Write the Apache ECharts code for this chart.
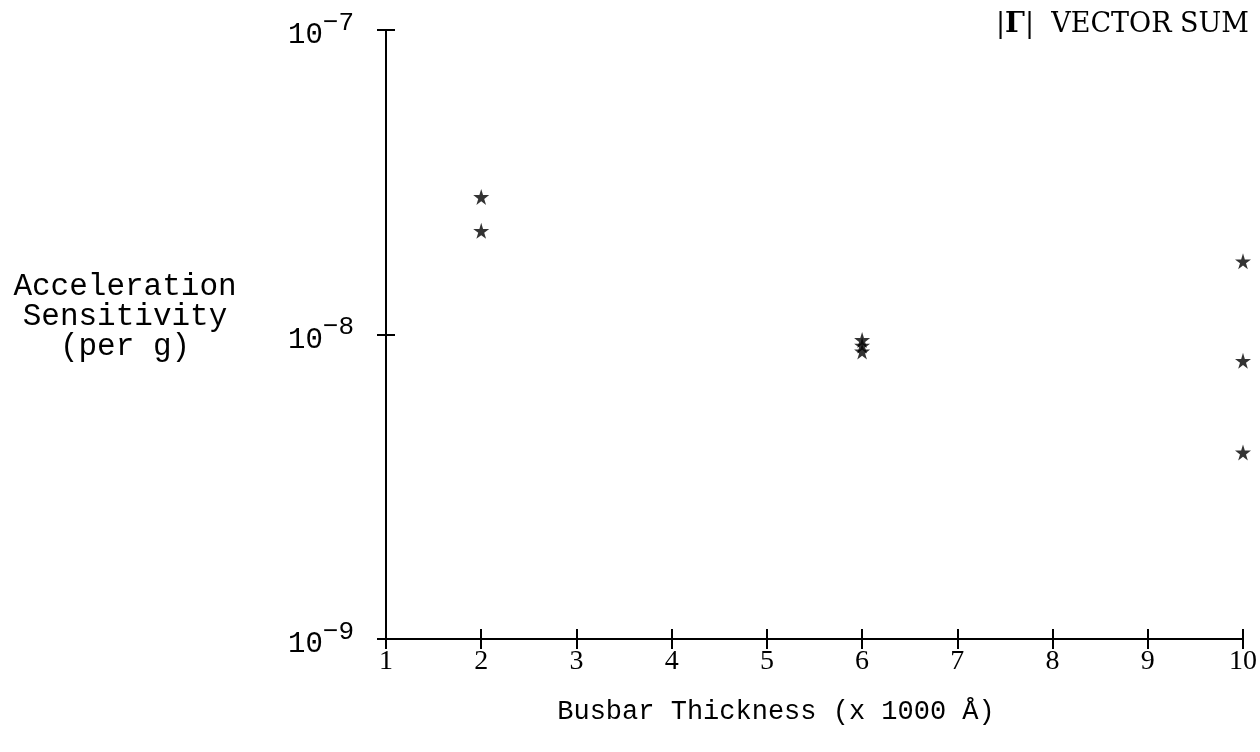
<!DOCTYPE html>
<html lang="en">
<head>
  <meta charset="UTF-8" />
  <title>Acceleration Sensitivity vs Busbar Thickness</title>
  <script src="https://cdn.jsdelivr.net/npm/echarts@6/dist/echarts.min.js"></script>
  <style>
    html, body, #main {
      margin: 0; padding: 0; width: 100%; height: 100%;
      background: #fff;
    }
  </style>
</head>
<body>
  <div id="main"></div>
  <script>
    const chart = echarts.init(document.getElementById('main'));

    // busbar thickness (x 1000 A) and |Gamma| vector sum per g
    const thickness = [2, 2, 6, 6, 6, 10, 10, 10];
    const sensitivity = [2.83e-8, 2.19e-8, 9.6e-9, 9.2e-9, 8.8e-9, 1.74e-8, 8.2e-9, 4.1e-9];
    const xTicks = [1, 2, 3, 4, 5, 6, 7, 8, 9, 10];
    const yRange = [1e-9, 1e-7];

    const points = thickness.map((x, i) => [x, sensitivity[i]]);

    const star = 'path://M50,0 L61,35 L98,35 L68,57 L79,91 L50,70 L21,91 L32,57 L2,35 L39,35 Z';
    const mono = '"Liberation Mono", "DejaVu Sans Mono", monospace';
    const serif = '"Liberation Serif", "DejaVu Serif", serif';

    const axisLine = { show: true, lineStyle: { color: '#000', width: 2 } };

    function yAxisCfg(inside) {
      return {
        type: 'log',
        logBase: 10,
        min: yRange[0],
        max: yRange[1],
        position: 'left',
        axisLine: axisLine,
        axisTick: { show: true, inside: inside, length: 9, lineStyle: { color: '#000', width: 2 } },
        splitLine: { show: false },
        minorTick: { show: false },
        axisLabel: inside ? { show: false } : {
          margin: 32,
          formatter: v => '{b|10}{s|−' + Math.abs(Math.round(Math.log10(v))) + '}',
          rich: {
            b: { fontFamily: mono, fontSize: 29, color: '#000', verticalAlign: 'bottom' },
            s: { fontFamily: mono, fontSize: 26, color: '#000', padding: [0, 0, 14, 0] }
          }
        }
      };
    }

    function xAxisCfg(inside) {
      return {
        type: 'value',
        min: xTicks[0],
        max: xTicks[xTicks.length - 1],
        interval: 1,
        position: 'bottom',
        axisLine: axisLine,
        axisTick: { show: true, inside: inside, length: 10, lineStyle: { color: '#000', width: 2 } },
        splitLine: { show: false },
        axisLabel: inside ? { show: false } : {
          margin: 9,
          fontFamily: serif,
          fontSize: 28,
          color: '#000'
        }
      };
    }

    chart.setOption({
      animation: false,
      title: {
        text: '|{g|Γ}|  VECTOR SUM',
        right: 6,
        top: 6,
        textStyle: {
          fontFamily: '"DejaVu Serif", serif',
          fontSize: 27,
          fontWeight: 'normal',
          color: '#000',
          rich: {
            g: { fontFamily: '"DejaVu Serif", serif', fontSize: 28, fontWeight: 'bold', color: '#000' }
          }
        }
      },
      grid: { left: 386, right: 17, top: 30, bottom: 113, containLabel: false },
      xAxis: [xAxisCfg(false), xAxisCfg(true)],
      yAxis: [yAxisCfg(false), yAxisCfg(true)],
      graphic: [
        {
          type: 'text',
          x: 125,
          y: 272,
          style: {
            text: 'Acceleration\nSensitivity\n(per g)',
            align: 'center',
            fontFamily: mono,
            fontSize: 31,
            lineHeight: 30,
            fill: '#000'
          }
        },
        {
          type: 'text',
          x: 776,
          y: 698,
          style: {
            text: 'Busbar Thickness (x 1000 Å)',
            align: 'center',
            fontFamily: mono,
            fontSize: 27,
            fill: '#000'
          }
        }
      ],
      series: [{
        type: 'scatter',
        xAxisIndex: 0,
        yAxisIndex: 0,
        symbol: star,
        symbolSize: 16,
        itemStyle: { color: '#000' },
        data: points
      }]
    });
  </script>
</body>
</html>
